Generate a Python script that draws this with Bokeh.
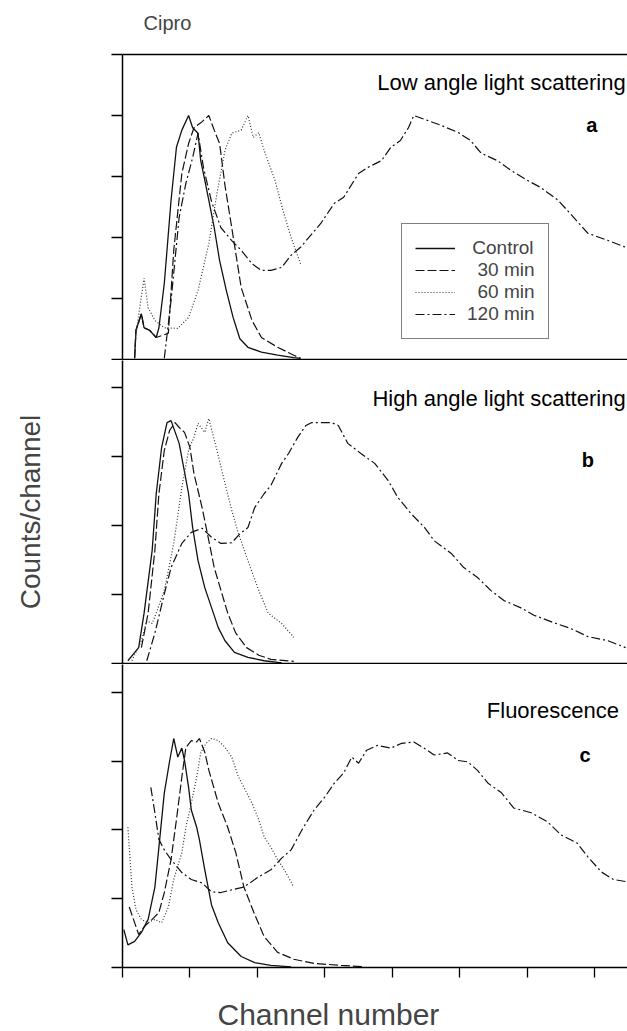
from bokeh.plotting import figure
from bokeh.models import Range1d, FixedTicker, LinearAxis, Legend, LegendItem, Title
from bokeh.layouts import column
from bokeh.embed import file_html
from bokeh.resources import INLINE
from bokeh.core.properties import value

FONT = "Liberation Sans"

# ---------------- data ----------------
x_ticks = [0, 50, 100, 150, 200, 250, 300, 350]
ya_ticks = [0, 100, 200, 300, 400, 500]
yb_ticks = [0, 100, 200, 300, 400]
yc_ticks = [0, 100, 200, 300, 400]

series_labels = ["Control", "30 min", "60 min", "120 min"]
panel_titles = ["Low angle light scattering", "High angle light scattering", "Fluorescence"]
panel_letters = ["a", "b", "c"]

# Panel a: low angle light scattering
a_ctrl_x = [9, 10, 14, 16, 20, 25, 27, 31, 36, 40, 44, 49, 52, 56, 58, 61, 64, 68, 72, 77, 82, 87, 93, 103, 115, 127, 132]
a_ctrl_y = [2, 48, 75, 52, 48, 36, 52, 125, 261, 348, 376, 400, 380, 371, 326, 294, 261, 216, 162, 113, 69, 34, 20, 12, 7, 3, 2]
a_30_x = [9, 10, 14, 16, 20, 25, 29, 34, 38, 44, 49, 53, 58, 64, 68, 72, 76, 81, 88, 96, 103, 115, 127, 132]
a_30_y = [2, 48, 75, 52, 48, 36, 39, 43, 179, 305, 354, 380, 388, 400, 376, 354, 285, 216, 118, 64, 36, 20, 7, 2]
a_60_x = [9, 10, 16, 19, 24, 31, 41, 49, 56, 64, 70, 76, 81, 88, 93, 97, 101, 105, 113, 119, 125, 132]
a_60_y = [20, 43, 133, 85, 64, 52, 51, 69, 113, 190, 272, 343, 371, 376, 400, 364, 372, 343, 294, 244, 200, 157]
a_120_x = [31, 36, 42, 47, 52, 56, 60, 66, 73, 81, 88, 96, 103, 110, 118, 125, 132, 147, 157, 164,
           175, 182, 192, 199, 206, 212, 216, 226, 236, 249, 258, 266, 278, 288, 300, 310, 323, 332, 345, 360, 373]
a_120_y = [2, 97, 233, 289, 331, 371, 315, 259, 216, 195, 179, 157, 146, 146, 151, 171, 184, 223, 256, 266,
           305, 315, 326, 348, 359, 380, 400, 392, 384, 372, 359, 338, 326, 310, 294, 282, 261, 239, 207, 195, 184]

# Panel b: high angle light scattering
b_ctrl_x = [4, 12, 16, 22, 25, 29, 33, 36, 42, 49, 52, 56, 61, 66, 71, 76, 83, 93, 105, 118]
b_ctrl_y = [4, 23, 73, 164, 246, 313, 349, 352, 319, 246, 197, 149, 110, 81, 52, 33, 16, 9, 4, 1]
b_30_x = [14, 19, 24, 27, 31, 35, 39, 42, 46, 50, 53, 59, 64, 68, 73, 78, 84, 92, 101, 110, 127]
b_30_y = [23, 73, 164, 246, 309, 338, 349, 342, 335, 313, 275, 226, 178, 139, 106, 73, 44, 23, 12, 6, 3]
b_60_x = [7, 14, 18, 22, 25, 31, 38, 44, 49, 53, 56, 61, 64, 70, 76, 81, 86, 93, 101, 108, 118, 127]
b_60_y = [4, 33, 62, 58, 73, 106, 174, 255, 309, 328, 348, 335, 355, 309, 261, 222, 188, 149, 106, 73, 58, 38]
b_120_x = [18, 24, 31, 36, 44, 51, 59, 66, 73, 81, 87, 93, 98, 105, 110, 118, 123, 130, 136, 140,
           155, 160, 167, 177, 187, 197, 204, 214, 224, 231, 244, 253, 263, 273, 283, 295, 305, 320, 332, 345, 360, 373]
b_120_y = [4, 44, 101, 139, 174, 190, 196, 183, 174, 175, 188, 197, 226, 246, 258, 290, 304, 328, 345, 349,
           349, 345, 319, 304, 290, 265, 241, 217, 197, 178, 159, 139, 125, 106, 91, 81, 70, 59, 51, 39, 33, 23]

# Panel c: fluorescence
c_ctrl_x = [1, 4, 9, 14, 19, 24, 27, 31, 35, 38, 41, 44, 46, 49, 51, 55, 57, 61, 66, 71, 78, 88, 98, 110, 125]
c_ctrl_y = [55, 33, 38, 51, 70, 117, 175, 254, 301, 333, 306, 319, 301, 262, 229, 204, 186, 142, 91, 65, 36, 16, 7, 3, 1]
c_30_x = [5, 12, 16, 22, 27, 31, 36, 40, 44, 47, 51, 55, 57, 61, 64, 71, 78, 84, 90, 98, 105, 115, 127, 142, 162, 179]
c_30_y = [88, 48, 59, 70, 80, 109, 157, 215, 277, 320, 330, 328, 333, 313, 287, 239, 204, 167, 117, 77, 45, 22, 12, 6, 3, 1]
c_60_x = [4, 7, 10, 14, 19, 24, 29, 34, 38, 44, 47, 51, 55, 58, 62, 66, 71, 76, 81, 86, 90, 96, 101, 105, 110, 115, 120, 127]
c_60_y = [204, 117, 84, 70, 65, 70, 65, 88, 128, 167, 204, 239, 277, 312, 326, 333, 330, 320, 306, 277, 262, 239, 215, 190, 175, 157, 142, 117]
c_120_x = [21, 24, 27, 31, 36, 44, 51, 59, 66, 73, 81, 90, 101, 110, 118, 125, 133, 142, 150, 157,
           164, 170, 175, 181, 189, 199, 207, 216, 226, 231, 241, 249, 256, 263, 271, 281, 290, 303, 315, 325,
           337, 345, 355, 364, 373]
c_120_y = [262, 225, 186, 171, 157, 138, 128, 123, 110, 109, 113, 117, 132, 142, 159, 171, 200, 229, 248, 268,
           283, 306, 297, 316, 323, 319, 326, 328, 316, 309, 312, 301, 299, 287, 268, 254, 232, 225, 212, 193,
           181, 161, 139, 128, 125]

X_MAX = 374.4
YA_MAX = 500
YB_MAX = 439.1
YC_MAX = 440.6

# ---------------- styles ----------------
styles = [
    dict(line_color="#111111", line_width=1.3, line_dash="solid"),
    dict(line_color="#111111", line_width=1.2, line_dash="9 3"),
    dict(line_color="#333333", line_width=1.2, line_dash="1 2"),
    dict(line_color="#111111", line_width=1.2, line_dash="9 3 2 3"),
]


def style_axis(ax, ticks):
    ax.ticker = FixedTicker(ticks=ticks)
    ax.major_label_overrides = {t: "" for t in ticks}
    ax.major_label_text_font_size = "10px"
    ax.major_label_standoff = 0
    ax.minor_tick_in = 0
    ax.minor_tick_out = 0
    ax.major_tick_in = 0
    ax.axis_line_color = "black"
    ax.axis_line_width = 1.5
    ax.major_tick_line_color = "black"
    ax.major_tick_line_width = 1.3


def bare_axis():
    ax = LinearAxis()
    style_axis(ax, [])
    ax.major_tick_out = 0
    return ax


def spacer_axis(space, line=True):
    # an axis with one invisible tick: only used to reserve border space
    ax = LinearAxis()
    style_axis(ax, [0])
    ax.major_tick_out = space
    ax.major_tick_line_color = None
    if not line:
        ax.axis_line_color = None
    return ax


def make_panel(height, ymax, yticks, top, bottom, xaxis=False):
    p = figure(width=627, height=height,
               x_range=Range1d(0, X_MAX), y_range=Range1d(0, ymax),
               output_backend="svg", toolbar_location=None,
               x_axis_location=None, y_axis_location=None,
               min_border_left=122, min_border_right=0,
               min_border_top=top, min_border_bottom=bottom)
    p.grid.visible = False
    p.outline_line_color = None
    yax = LinearAxis()
    style_axis(yax, yticks)
    yax.major_tick_out = 11
    p.add_layout(yax, "left")
    if xaxis:
        xax = LinearAxis()
        style_axis(xax, x_ticks)
        xax.major_tick_out = 10
        p.add_layout(xax, "below")
    else:
        p.add_layout(bare_axis(), "below")
    return p, yax


def add_text(p, x, y, txt, align="right", bold=False, size="22px"):
    p.text(x=[x], y=[y], text=[txt], text_align=align, text_baseline="alphabetic",
           text_font=value(FONT), text_font_size=value(size),
           text_font_style="bold" if bold else "normal", text_color="black")


# Panel a
pa, _ = make_panel(360, YA_MAX, ya_ticks, 54, 1)
pa.add_layout(spacer_axis(21), "above")
pa.title.text = "Cipro"
pa.title.text_font = FONT
pa.title.text_font_size = "20px"
pa.title.text_font_style = "normal"
pa.title.align = "left"
pa.title.offset = 21
pa.title.standoff = 0

ra = []
for (xs, ys), st in zip([(a_ctrl_x, a_ctrl_y), (a_30_x, a_30_y), (a_60_x, a_60_y), (a_120_x, a_120_y)], styles):
    ra.append(pa.line(xs, ys, **st))
add_text(pa, 373, 454, panel_titles[0])
add_text(pa, 348, 384, panel_letters[0], align="center", bold=True, size="20px")

legend_labels = ["\u00a0" + series_labels[0], "\u00a0\u00a0" + series_labels[1],
                 "\u00a0\u00a0" + series_labels[2], series_labels[3]]
legend = Legend(items=[LegendItem(label=l, renderers=[r]) for l, r in zip(legend_labels, ra)],
                location=(279, 20), orientation="vertical")
legend.border_line_color = "black"
legend.border_line_width = 1
legend.background_fill_color = "white"
legend.background_fill_alpha = 1
legend.label_text_font = FONT
legend.label_text_font_size = "19px"
legend.glyph_width = 40
legend.glyph_height = 20
legend.label_height = 20
legend.label_standoff = 12
legend.padding = 13
legend.spacing = 0
legend.margin = 0
pa.add_layout(legend, "center")

# Panel b
pb, yb_axis = make_panel(304, YB_MAX, yb_ticks, 0, 1)
yb_axis.axis_label = "Counts/channel"
yb_axis.axis_label_text_font = FONT
yb_axis.axis_label_text_font_size = "28px"
yb_axis.axis_label_text_font_style = "normal"
yb_axis.axis_label_standoff = 66
for (xs, ys), st in zip([(b_ctrl_x, b_ctrl_y), (b_30_x, b_30_y), (b_60_x, b_60_y), (b_120_x, b_120_y)], styles):
    pb.line(xs, ys, **st)
add_text(pb, 373, 384, panel_titles[1])
add_text(pb, 345, 295, panel_letters[1], align="center", bold=True, size="20px")

# Panel c
pc, _ = make_panel(366, YC_MAX, yc_ticks, 0, 62, xaxis=True)
pc.add_layout(spacer_axis(18, line=False), "below")
pc.add_layout(Title(text="Channel number", align="left", offset=95, standoff=0,
                    text_font=FONT, text_font_size="30px", text_font_style="normal"), "below")
for (xs, ys), st in zip([(c_ctrl_x, c_ctrl_y), (c_30_x, c_30_y), (c_60_x, c_60_y), (c_120_x, c_120_y)], styles):
    pc.line(xs, ys, **st)
add_text(pc, 368, 374, panel_titles[2])
add_text(pc, 343, 309, panel_letters[2], align="center", bold=True, size="20px")

layout = column(pa, pb, pc, spacing=0)
open("out.html", "w").write(file_html(layout, INLINE))
